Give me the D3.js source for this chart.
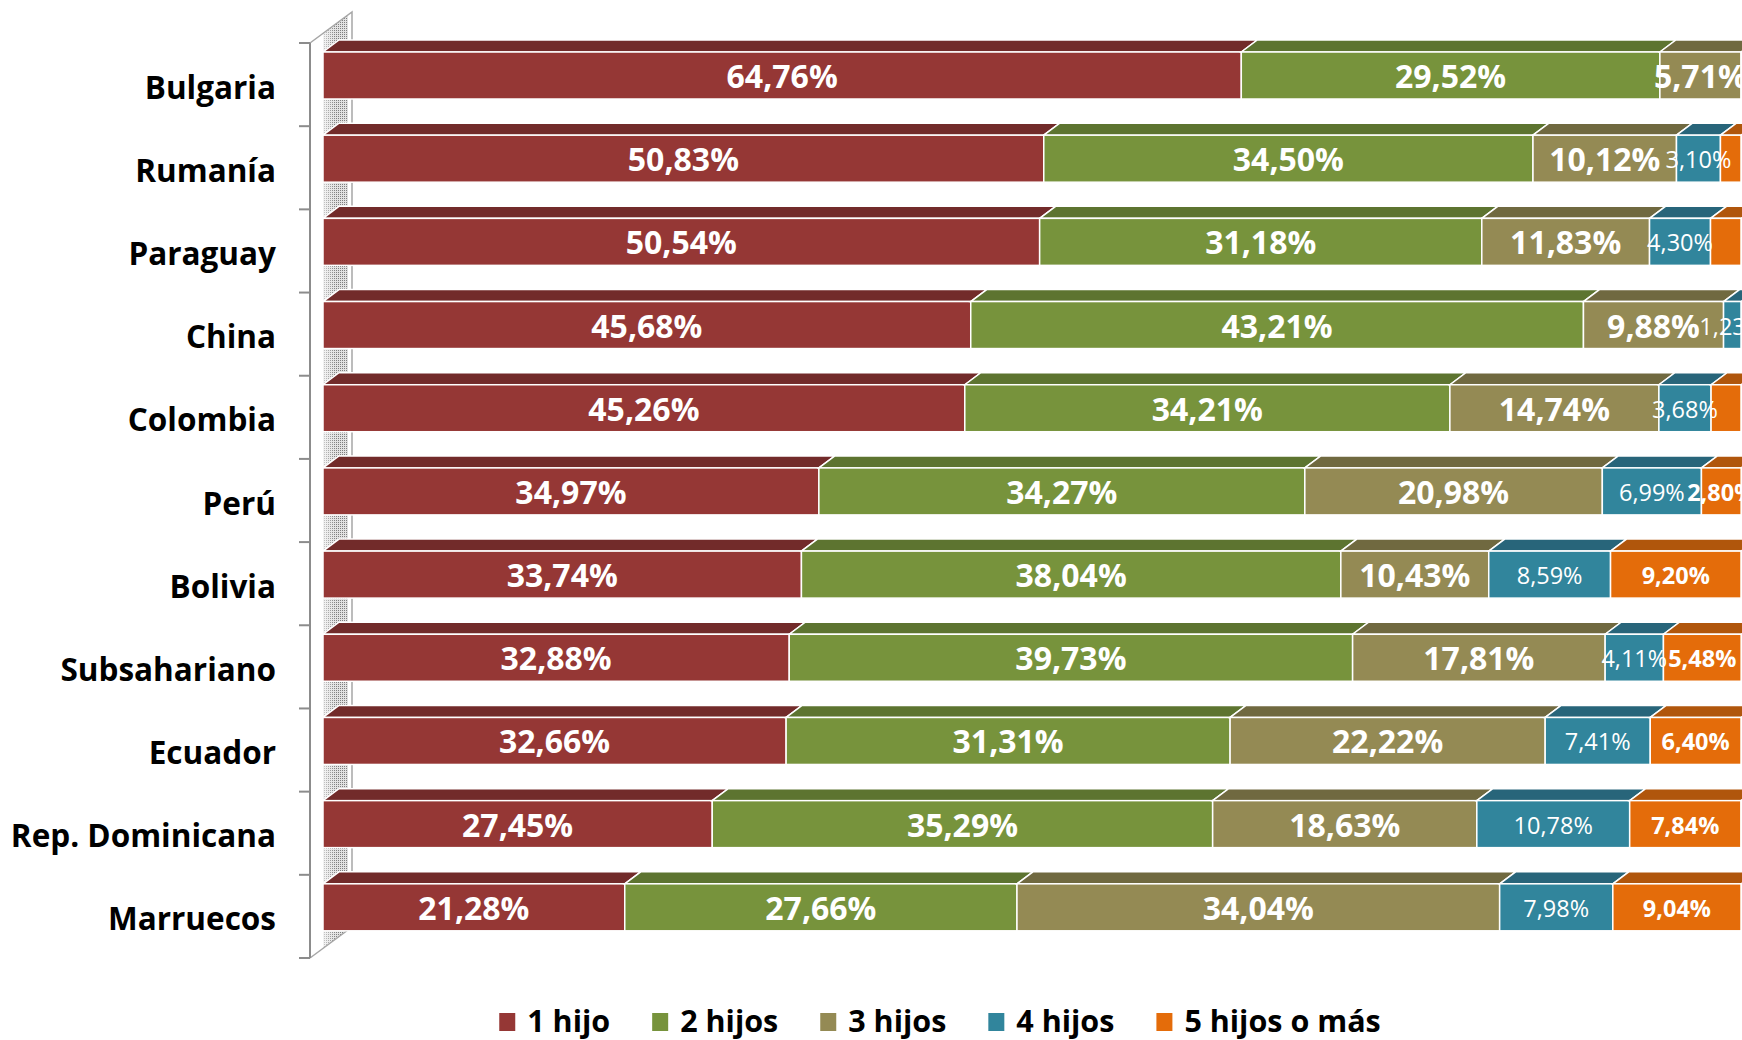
<!DOCTYPE html>
<html>
<head>
<meta charset="utf-8">
<script src="https://cdn.jsdelivr.net/npm/d3@7"></script>
<style>
  body { margin: 0; background: #fff; }
  svg { display: block; font-family: "Open Sans", sans-serif; }
</style>
</head>
<body>
<div id="chart"></div>
<script>
// data (percent of families by number of children)
var paises = ["Bulgaria", "Rumanía", "Paraguay", "China", "Colombia", "Perú",
    "Bolivia", "Subsahariano", "Ecuador", "Rep. Dominicana", "Marruecos"];
var unHijo      = [64.76, 50.83, 50.54, 45.68, 45.26, 34.97, 33.74, 32.88, 32.66, 27.45, 21.28];
var dosHijos    = [29.52, 34.50, 31.18, 43.21, 34.21, 34.27, 38.04, 39.73, 31.31, 35.29, 27.66];
var tresHijos   = [5.71, 10.12, 11.83, 9.88, 14.74, 20.98, 10.43, 17.81, 22.22, 18.63, 34.04];
var cuatroHijos = [0, 3.10, 4.30, 1.23, 3.68, 6.99, 8.59, 4.11, 7.41, 10.78, 7.98];
var cincoHijos  = [0, 1.45, 2.15, 0, 2.11, 2.80, 9.20, 5.48, 6.40, 7.84, 9.04];
var series = ["1 hijo", "2 hijos", "3 hijos", "4 hijos", "5 hijos o más"];

var width = 1742, height = 1040;

// colours: front face / top face
var frontColor = ["#953735", "#77933C", "#948A54", "#31859C", "#E46C0A"];
var topColor   = ["#722b2a", "#5d7430", "#706940", "#28657a", "#b0560c"];
// label style per series
var labelSize   = [32, 32, 32, 23.5, 23.5];
var labelWeight = ["bold", "bold", "bold", "normal", "bold"];

// build the table for d3.stack
var table = paises.map(function (p, i) {
    var row = { pais: p };
    row[series[0]] = unHijo[i];
    row[series[1]] = dosHijos[i];
    row[series[2]] = tresHijos[i];
    row[series[3]] = cuatroHijos[i];
    row[series[4]] = cincoHijos[i];
    return row;
});
var stacked = d3.stack().keys(series)(table);

// scales
var x = d3.scaleLinear().domain([0, 100]).range([323, 1741]);
var y = d3.scaleBand().domain(paises).range([43, 958]);

// 3d offsets
var dx = 16, dy = 12;          // bar depth
var wdx = 42, wdy = 31;        // wall depth
var faceTop = 9, faceH = 47;   // front face inside each band

var svg = d3.select("#chart").append("svg")
    .attr("width", width)
    .attr("height", height);

var defs = svg.append("defs");
var pat = defs.append("pattern")
    .attr("id", "dots")
    .attr("width", 2).attr("height", 2)
    .attr("patternUnits", "userSpaceOnUse");
pat.append("rect").attr("width", 2).attr("height", 2).attr("fill", "#e2e2e2");
pat.append("rect").attr("width", 1).attr("height", 1).attr("fill", "#7f7f7f");
var grad = defs.append("linearGradient").attr("id", "fade");
grad.append("stop").attr("offset", "0").attr("stop-color", "#fff").attr("stop-opacity", 0.6);
grad.append("stop").attr("offset", "0.5").attr("stop-color", "#fff").attr("stop-opacity", 0);

var x0 = 310, yTop = y.range()[0], yBot = y.range()[1];
var wallPts = [[x0, yTop], [x0 + wdx, yTop - wdy], [x0 + wdx, yBot - wdy], [x0, yBot]];
defs.append("clipPath").attr("id", "wallClip")
    .append("polygon").attr("points", wallPts.join(" "));

// side wall
var wall = svg.append("g");
wall.append("polygon").attr("points", wallPts.join(" ")).attr("fill", "#fff");
wall.append("rect")
    .attr("clip-path", "url(#wallClip)")
    .attr("x", 323).attr("y", 0).attr("width", 25).attr("height", height)
    .attr("fill", "url(#dots)");
wall.append("rect")
    .attr("clip-path", "url(#wallClip)")
    .attr("x", 323).attr("y", 0).attr("width", 25).attr("height", height)
    .attr("fill", "url(#fade)");
wall.append("polyline")
    .attr("points", [[x0, yTop], [x0 + wdx, yTop - wdy], [x0 + wdx, yBot - wdy]].join(" "))
    .attr("fill", "none").attr("stroke", "#a6a6a6").attr("stroke-width", 1.5);
wall.append("line")
    .attr("x1", x0).attr("y1", yBot).attr("x2", x0 + wdx).attr("y2", yBot - wdy)
    .attr("stroke", "#a6a6a6").attr("stroke-width", 1.5);

// category axis
var axis = svg.append("g");
axis.append("line")
    .attr("x1", x0).attr("x2", x0).attr("y1", yTop).attr("y2", yBot)
    .attr("stroke", "#8c8c8c").attr("stroke-width", 2);
axis.selectAll(".tick")
    .data(paises.concat(["end"]))
    .enter().append("line")
    .attr("x1", x0 - 11).attr("x2", x0)
    .attr("y1", function (d, i) { return yTop + i * y.bandwidth(); })
    .attr("y2", function (d, i) { return yTop + i * y.bandwidth(); })
    .attr("stroke", "#8c8c8c").attr("stroke-width", 2);
axis.selectAll(".cat")
    .data(paises)
    .enter().append("text")
    .attr("x", 276)
    .attr("y", function (d) { return y(d) + y.bandwidth() / 2 + 14; })
    .attr("text-anchor", "end")
    .style("font-size", "31.5px")
    .style("font-weight", "bold")
    .style("fill", "#000")
    .text(function (d) { return d; });

// bars
var bars = svg.append("g");
paises.forEach(function (p, r) {
    var yf = y(p) + faceTop;
    stacked.forEach(function (layer, s) {
        var d = layer[r];
        var a = x(d[0]), b = x(d[1]);
        if (b - a <= 0) return;
        bars.append("polygon")
            .attr("points", [[a, yf], [a + dx, yf - dy], [b + dx, yf - dy], [b, yf]].join(" "))
            .attr("fill", topColor[s])
            .attr("stroke", "#fff").attr("stroke-width", 1.5);
        bars.append("rect")
            .attr("x", a).attr("y", yf)
            .attr("width", b - a).attr("height", faceH)
            .attr("fill", frontColor[s])
            .attr("stroke", "#fff").attr("stroke-width", 1.5);
    });
});

// data labels (the smallest "5 hijos" labels fall outside the picture and are not shown)
var fmt = function (v) { return d3.format(".2f")(v).replace(".", ",") + "%"; };
var labels = svg.append("g");
stacked.forEach(function (layer, s) {
    labels.selectAll(".l" + s)
        .data(layer.filter(function (d) {
            var v = d[1] - d[0];
            return v > 0 && !(s === 4 && v < 2.5);
        }))
        .enter().append("text")
        .attr("x", function (d) { return (x(d[0]) + x(d[1])) / 2; })
        .attr("y", function (d) { return y(d.data.pais) + faceTop + faceH / 2 + 1 + 0.36 * labelSize[s]; })
        .attr("text-anchor", "middle")
        .style("font-size", labelSize[s] + "px")
        .style("font-weight", labelWeight[s])
        .style("fill", "#fff")
        .text(function (d) { return fmt(d[1] - d[0]); });
});

// legend
var legend = svg.append("g").attr("transform", "translate(0,1032)");
var items = legend.selectAll(".item")
    .data(series)
    .enter().append("g");
items.append("rect")
    .attr("y", -19).attr("width", 16).attr("height", 18)
    .attr("fill", function (d, i) { return frontColor[i]; });
items.append("text")
    .attr("x", 28).attr("y", 0)
    .style("font-size", "30.5px")
    .style("font-weight", "bold")
    .text(function (d) { return d; });
var pos = 0, offs = [];
items.each(function () {
    offs.push(pos);
    pos += 28 + d3.select(this).select("text").node().getComputedTextLength() + 42;
});
var total = pos - 42, start = 940 - total / 2;
items.attr("transform", function (d, i) { return "translate(" + (start + offs[i]) + ",0)"; });
</script>
</body>
</html>
